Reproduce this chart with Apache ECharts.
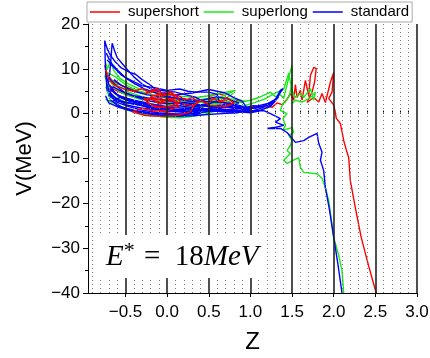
<!DOCTYPE html>
<html>
<head>
<meta charset="utf-8">
<script src="https://cdn.jsdelivr.net/npm/echarts@6/dist/echarts.min.js"></script>
<style>html,body{margin:0;padding:0;background:#fff;}#c{width:430px;height:358px;}</style>
</head>
<body>
<div id="c"></div>
<script>
// ---- data ----
const legendNames = ['supershort', 'superlong', 'standard'];
const xLabelValues = [-0.5, 0, 0.5, 1, 1.5, 2, 2.5, 3];
const majorZ = [-0.5, 0, 0.5, 1, 1.5, 2, 2.5, 3];
const minorZ = [-0.9,-0.8,-0.7,-0.6,-0.4,-0.3,-0.2,-0.1,0.1,0.2,0.3,0.4,0.6,0.7,0.8,0.9,1.1,1.2,1.3,1.4,1.6,1.7,1.8,1.9,2.1,2.2,2.3,2.4,2.6,2.7,2.8,2.9];

const redT1 = [[-0.75,10.8],[-0.72,8.8],[-0.66,7.4],[-0.58,6.6],[-0.48,5.8],[-0.36,5.0],[-0.26,4.6],[-0.18,5.2],[-0.1,4.2],[-0.02,4.6],[0.06,3.4],[0.0,2.4],[-0.12,2.0],[-0.04,3.0],[0.1,2.6],[0.2,3.4],[0.28,2.4],[0.34,3.2],[0.42,2.8],[0.5,3.4],[0.58,2.6],[0.66,3.0],[0.74,2.0],[0.78,1.2],[0.88,1.6],[0.96,1.0],[1.04,1.6],[1.12,1.2],[1.2,1.8],[1.26,1.4],[1.32,2.4],[1.38,2.0],[1.44,3.2],[1.48,4.5],[1.52,3.0],[1.54,6.5],[1.56,3.6],[1.6,5.2],[1.62,3.0],[1.66,7.4],[1.7,4.0],[1.72,8.5],[1.76,10.3],[1.79,10.1],[1.77,7.0],[1.74,4.8],[1.68,2.5],[1.76,3.6],[1.82,2.6],[1.86,4.5],[1.9,2.5],[1.96,7.0],[2.0,9.2],[1.98,4.8],[1.94,3.4],[2.0,1.9],[2.02,0.3],[2.03,-1.0],[2.08,-2.2],[2.1,-4],[2.12,-6],[2.15,-8],[2.18,-9.8],[2.2,-15],[2.26,-21],[2.33,-27.6],[2.42,-34],[2.51,-40]];
const redT2 = [[-0.74,9.8],[-0.7,7.6],[-0.62,6.2],[-0.5,5.4],[-0.4,5.0],[-0.3,5.6],[-0.2,4.6],[-0.12,5.6],[-0.04,4.0],[0.04,4.8],[0.12,3.8],[0.16,2.6],[0.06,1.8],[-0.08,1.4],[-0.22,2.2],[-0.28,3.4],[-0.16,3.0],[-0.06,2.4],[0.08,3.0],[0.14,1.6],[0.02,0.8],[-0.16,0.6],[-0.3,1.2],[-0.42,0.4],[-0.26,-0.4],[-0.06,-0.6],[0.12,-0.4],[0.28,0.4],[0.32,1.8],[0.4,3.0],[0.48,2.2],[0.56,3.4],[0.64,2.6],[0.72,3.6],[0.8,2.4],[0.7,1.6],[0.52,1.8],[0.44,2.6]];
const redT3 = [[-0.26,4.4],[-0.16,5.4],[-0.06,3.8],[0.04,5.0],[0.1,3.4],[-0.08,3.0],[-0.2,3.8],[-0.1,2.2],[0.0,3.4],[0.12,2.8],[0.06,1.6],[-0.14,1.4],[-0.24,2.6],[-0.18,4.0],[-0.04,4.4],[0.14,4.0],[0.22,3.0],[0.3,3.6],[0.38,2.6],[0.3,1.8],[0.18,2.2]];
const redT4 = [[-0.72,7.0],[-0.64,5.4],[-0.54,4.6],[-0.44,4.0],[-0.34,3.6],[-0.22,3.2],[-0.1,3.6],[0.0,2.8],[0.1,2.0],[0.22,1.4],[0.36,1.0],[0.5,0.6],[0.62,1.2],[0.7,2.2],[0.6,3.2],[0.5,4.0],[0.62,4.4],[0.7,4.0]];
const redT5 = [[-0.7,5.6],[-0.6,4.2],[-0.48,3.4],[-0.36,2.6],[-0.24,1.8],[-0.12,0.8],[0.0,0.2],[0.14,-0.2],[0.28,0.2],[0.4,1.0],[0.46,2.0],[0.54,1.2],[0.62,2.0],[0.7,3.0],[0.78,2.2],[0.84,3.0],[0.9,2.4]];

const greenT1 = [[-0.74,11.6],[-0.72,9.8],[-0.68,11.9],[-0.64,9.6],[-0.56,7.8],[-0.46,6.6],[-0.34,5.6],[-0.2,4.8],[-0.06,4.4],[0.08,4.0],[0.22,3.8],[0.36,3.6],[0.5,4.0],[0.66,4.6],[0.82,5.2],[0.7,4.2],[0.56,3.0],[0.42,2.4],[0.6,2.2],[0.74,2.8],[0.9,2.6],[1.0,3.0],[1.1,3.6],[1.24,4.8],[1.3,3.8],[1.36,4.2],[1.4,3.4],[1.44,6.5],[1.48,9.5],[1.5,10.8],[1.5,7],[1.47,4.2],[1.42,2.6],[1.39,2.3],[1.36,0.7],[1.44,0.0],[1.39,-1.1],[1.42,-2.6],[1.39,-3.7],[1.5,-3.1],[1.52,-4.2],[1.46,-4.8],[1.5,-6.0],[1.48,-7.1],[1.44,-8.2],[1.48,-8.9],[1.4,-10.4],[1.44,-11.1],[1.58,-9.8],[1.6,-12.0],[1.64,-13.1],[1.8,-13.4],[1.86,-14.4],[1.9,-16.5],[1.94,-19.4],[1.97,-23.5],[2.0,-27.6],[2.06,-31.6],[2.1,-35.0],[2.12,-40]];
const greenT2 = [[0.9,1.6],[1.04,2.4],[1.16,3.2],[1.3,4.6],[1.4,5.5],[1.46,9.0],[1.5,5.2],[1.54,3.6],[1.6,4.5],[1.64,3.6],[1.72,5.6],[1.76,3.0],[1.78,4.8],[1.72,3.6],[1.62,2.6],[1.54,3.0],[1.5,2.2]];
const greenT3 = [[-0.74,3.2],[-0.62,2.2],[-0.5,1.2],[-0.36,0.3],[-0.2,-0.4],[-0.02,-0.8],[0.16,-0.9],[0.32,-0.6],[0.46,-0.1],[0.58,0.6],[0.48,1.0],[0.32,1.4],[0.12,1.8],[-0.1,2.4],[-0.32,3.2],[-0.5,4.2],[-0.62,5.6],[-0.7,7.6],[-0.72,9.2],[-0.62,8.2],[-0.48,6.2],[-0.34,5.0],[-0.14,4.0],[0.06,3.2],[0.26,2.4],[0.44,2.6],[0.6,3.2],[0.72,3.6],[0.8,4.6]];
const greenT4 = [[-0.72,5.0],[-0.68,3.0],[-0.58,1.6],[-0.44,0.6],[-0.28,-0.2],[-0.1,-0.6],[0.1,-0.4],[0.3,-0.2],[0.5,0.4],[0.64,1.9],[0.5,2.0],[0.3,1.0],[0.1,0.6],[-0.1,1.0],[-0.3,1.8],[-0.5,2.6],[-0.66,4.0],[-0.74,6.0]];
const greenT5 = [[-0.75,8.5],[-0.7,6.0],[-0.62,4.4],[-0.5,3.2],[-0.38,2.6],[-0.24,2.0],[-0.1,1.6],[0.04,1.2],[0.18,0.8],[0.34,0.6],[0.5,1.0],[0.66,1.6],[0.8,2.2],[0.94,2.8],[0.82,3.2],[0.66,3.6],[0.5,3.4],[0.34,3.0],[0.18,2.6],[0.02,2.6],[-0.14,3.0],[-0.3,3.8],[-0.46,4.8],[-0.6,6.4],[-0.7,8.0]];

const blueT1 = [[-0.72,5.0],[-0.74,10.0],[-0.75,16.3],[-0.72,14.5],[-0.68,13.0],[-0.62,11.5],[-0.55,10.2],[-0.45,9.2],[-0.38,8.8],[-0.3,7.6],[-0.2,6.4],[-0.14,5.4],[0.0,5.0],[0.1,4.8],[0.2,4.3],[0.34,3.7],[0.45,2.5],[0.54,1.2],[0.45,0.8],[0.3,0.6],[0.1,0.5],[-0.1,0.8],[-0.3,1.2],[-0.5,2.0],[-0.62,3.5],[-0.7,5.0]];
const blueT2 = [[-0.7,7.0],[-0.68,11.0],[-0.66,15.7],[-0.63,14.0],[-0.6,12.5],[-0.5,10.3],[-0.4,8.2],[-0.3,6.6],[-0.2,5.6],[-0.05,4.6],[0.1,4.2],[0.3,4.6],[0.5,5.4],[0.7,4.6],[0.8,3.6],[0.9,2.8],[0.95,1.5],[0.8,1.0],[0.6,0.8],[0.4,0.3],[0.2,0.0],[0.0,-0.2],[-0.2,0.2],[-0.4,0.8],[-0.55,1.5],[-0.68,3.0]];
const blueT3 = [[-0.7,8.0],[-0.6,6.0],[-0.5,4.6],[-0.35,3.6],[-0.2,2.8],[0.0,2.2],[0.2,2.5],[0.4,2.0],[0.6,1.5],[0.8,1.8],[1.0,0.3],[0.85,0.5],[0.6,0.9],[0.4,1.2],[0.2,1.0],[0.0,0.8],[-0.2,1.5],[-0.4,2.2],[-0.6,2.8],[-0.7,4.0],[-0.65,6.0],[-0.55,5.0],[-0.4,4.0],[-0.2,3.4],[0.0,3.0],[0.2,2.0],[0.4,1.5]];
const blueT4 = [[-0.72,6.5],[-0.68,4.0],[-0.6,2.5],[-0.45,1.5],[-0.3,0.8],[-0.1,0.2],[0.1,-0.3],[0.3,0.0],[0.5,0.5],[0.7,0.8],[0.9,1.2],[1.0,1.0],[1.1,1.8],[1.2,2.2],[1.3,3.2],[1.36,5.2],[1.39,5.6],[1.32,3.6],[1.22,2.0],[1.1,1.0],[1.0,0.5],[1.16,0.7],[1.24,0.0],[1.36,-1.1],[1.3,-1.9],[1.4,-2.6],[1.28,-3.1],[1.2,-3.3],[1.36,-3.3],[1.44,-4.2],[1.5,-5.5],[1.54,-6.4],[1.64,-6.0],[1.7,-5.3],[1.8,-4.4],[1.82,-6.6],[1.86,-8.6],[1.84,-10.4],[1.88,-12.7],[1.9,-16.5],[1.95,-21.5],[2.0,-27.6],[2.05,-33.5],[2.1,-40]];
const blueT5 = [[-0.72,12.0],[-0.65,10.5],[-0.55,8.6],[-0.45,7.6],[-0.3,6.2],[-0.15,5.8],[0.0,5.2],[0.15,5.5],[0.25,5.0],[0.35,4.8],[0.5,4.8],[0.6,4.3],[0.62,3.0],[0.5,2.2],[0.3,1.6]];
const blueT6 = [[-0.7,4.5],[-0.6,3.2],[-0.5,2.5],[-0.35,2.0],[-0.2,1.2],[0.0,0.6],[0.2,0.3],[0.4,0.0],[0.3,-0.3],[0.1,-0.5],[-0.1,-0.3],[-0.3,0.3],[-0.5,1.0],[-0.6,1.8],[-0.65,2.8],[-0.55,3.8],[-0.4,3.0],[-0.2,2.2],[0.0,1.5],[0.2,1.2],[0.4,0.8],[0.6,0.5],[0.8,0.3],[1.0,0.6],[0.9,1.2],[0.7,1.4],[0.5,1.6],[0.3,2.0],[0.1,2.4]];
const blueT7 = [[0.6,1.0],[0.8,0.5],[1.0,0.2],[1.1,0.6],[1.2,1.4],[1.28,2.4],[1.34,3.8],[1.26,2.6],[1.14,1.6],[1.04,1.8],[0.94,1.4],[1.06,1.2],[1.2,2.0],[1.3,2.8],[1.24,1.6],[1.12,0.8],[0.98,0.6]];
const blueT8 = [[-0.74,9.0],[-0.7,6.5],[-0.64,5.0],[-0.56,3.6],[-0.46,2.8],[-0.36,2.4],[-0.24,1.6],[-0.12,1.2],[0.02,1.0],[0.14,0.6],[0.26,0.4],[0.38,0.8],[0.5,1.2],[0.62,1.8],[0.74,2.2],[0.86,1.6],[0.96,0.8],[0.84,0.2],[0.66,0.0],[0.48,-0.2],[0.3,-0.5],[0.12,-0.6],[-0.06,-0.4],[-0.24,0.0],[-0.42,0.6],[-0.58,1.4],[-0.7,2.4],[-0.74,4.0]];
const blueT9 = [[-0.73,13.5],[-0.68,11.5],[-0.6,9.8],[-0.5,8.0],[-0.4,6.8],[-0.28,5.6],[-0.16,4.8],[-0.04,4.0],[0.08,3.4],[0.2,3.0],[0.32,2.6],[0.46,3.2],[0.6,3.8],[0.74,3.2],[0.86,2.4],[0.78,1.6],[0.64,1.2],[0.5,0.9],[0.36,0.5],[0.22,0.6],[0.08,0.9],[-0.06,1.4],[-0.2,2.0],[-0.34,2.6],[-0.48,3.2],[-0.6,4.2],[-0.68,5.6]];
const blueT10 = [[-0.68,5.5],[-0.62,4.4],[-0.52,3.4],[-0.4,2.6],[-0.28,2.0],[-0.14,1.8],[0.0,1.6],[0.14,1.8],[0.28,1.4],[0.42,1.0],[0.56,0.6],[0.7,0.4],[0.84,0.7],[0.98,1.0],[0.88,1.8],[0.72,2.4],[0.56,2.6],[0.4,2.8],[0.24,3.2],[0.08,3.6],[-0.08,3.8],[-0.24,4.2],[-0.4,5.0],[-0.54,6.2],[-0.64,7.6]];

const redSet = [redT1, redT2, redT3, redT4, redT5];
const redOnTop = [redT2, redT3];
const greenSet = [greenT1, greenT2, greenT3, greenT4, greenT5];
const blueSet = [blueT1, blueT2, blueT3, blueT4, blueT5, blueT6, blueT7, blueT8, blueT9, blueT10];

// ---- chart ----
const chart = echarts.init(document.getElementById('c'), null, {renderer: 'canvas'});
const FONT = '"Liberation Sans", Arial, sans-serif';
const minus = s => String(s).replace('-', '\u2212');

function mk(name, color, data, z) {
  return {
    type: 'line', name: name, data: data, showSymbol: false, symbol: 'none',
    lineStyle: {color: color, width: 1.4}, itemStyle: {color: color},
    animation: false, silent: true, z: z
  };
}
const series = [];
redSet.forEach(d => series.push(mk('supershort', '#ff0000', d, redOnTop.includes(d) ? 4 : 3)));
greenSet.forEach(d => series.push(mk('superlong', '#18e818', d, 3)));
blueSet.forEach(d => series.push(mk('standard', '#0000ff', d, 3)));

series.unshift({
  type: 'line', name: 'grid', data: [], silent: true, animation: false, z: 1,
  markLine: {
    silent: true, symbol: 'none', animation: false, label: {show: false},
    emphasis: {disabled: true},
    data: minorZ.map(v => ({xAxis: v, lineStyle: {color: '#777', width: 1, type: [1, 3]}}))
      .concat(majorZ.map(v => ({xAxis: v, lineStyle: {color: '#222', width: 1.6, type: 'solid'}})))
  }
});

chart.setOption({
  backgroundColor: '#fff',
  animation: false,
  legend: {
    data: legendNames, left: 87, top: 2, icon: 'rect', itemWidth: 30, itemHeight: 1.5, itemGap: 5,
    padding: [2, 3, 2, 3], borderColor: '#aaa', borderWidth: 1, backgroundColor: '#fff',
    textStyle: {fontFamily: FONT, fontSize: 15, color: '#000', padding: [0, 0, 0, 3], lineHeight: 16},
    selectedMode: false, z: 10
  },
  grid: {left: 88, right: 13, top: 24, bottom: 65, containLabel: false, outerBoundsMode: 'none'},
  xAxis: [{
    type: 'value', min: -0.95, max: 3.0,
    name: 'Z', nameLocation: 'middle', nameGap: 37,
    nameTextStyle: {fontFamily: FONT, fontSize: 24, color: '#000'},
    axisLine: {show: true, onZero: false, lineStyle: {color: '#000', width: 1}},
    axisTick: {show: true, inside: false, length: 4, customValues: majorZ, lineStyle: {color: '#000'}},
    axisLabel: {customValues: xLabelValues, formatter: v => minus(Number(v).toFixed(1)), fontFamily: FONT, fontSize: 17, color: '#000', margin: 11},
    splitLine: {show: false}
  }, {
    type: 'value', min: -0.95, max: 3.0, position: 'bottom',
    axisLine: {show: false},
    axisTick: {show: true, inside: true, length: 3, customValues: minorZ, lineStyle: {color: '#000'}},
    axisLabel: {show: false}, splitLine: {show: false}
  }],
  yAxis: {
    type: 'value', min: -40, max: 20, interval: 10,
    name: 'V(MeV)', nameLocation: 'middle', nameGap: 52,
    nameTextStyle: {fontFamily: FONT, fontSize: 22, color: '#000'},
    axisLine: {show: true, onZero: false, lineStyle: {color: '#000', width: 1}},
    axisTick: {show: true, inside: false, length: 5, lineStyle: {color: '#000'}},
    minorTick: {show: true, splitNumber: 2, length: 3, lineStyle: {color: '#000'}},
    axisLabel: {formatter: v => minus(v), fontFamily: FONT, fontSize: 17, color: '#000', margin: 8},
    splitLine: {show: false}
  },
  graphic: [{
    type: 'rect', left: 93, top: 235, z: 20,
    shape: {width: 174, height: 43}, style: {fill: '#fff'}
  }, {
    type: 'text', left: 106, top: 240, z: 21,
    style: {
      text: '{e|E}{s|*}{n| =  18}{m|MeV}',
      rich: {
        e: {fontFamily: '"Liberation Serif", serif', fontStyle: 'italic', fontSize: 29, fill: '#000'},
        s: {fontFamily: '"Liberation Serif", serif', fontSize: 22, fill: '#000', verticalAlign: 'top', padding: [0, 2, 12, 0]},
        n: {fontFamily: '"Liberation Serif", serif', fontSize: 29, fill: '#000'},
        m: {fontFamily: '"Liberation Serif", serif', fontStyle: 'italic', fontSize: 29, fill: '#000'}
      }
    }
  }],
  series: series
});
</script>
</body>
</html>
